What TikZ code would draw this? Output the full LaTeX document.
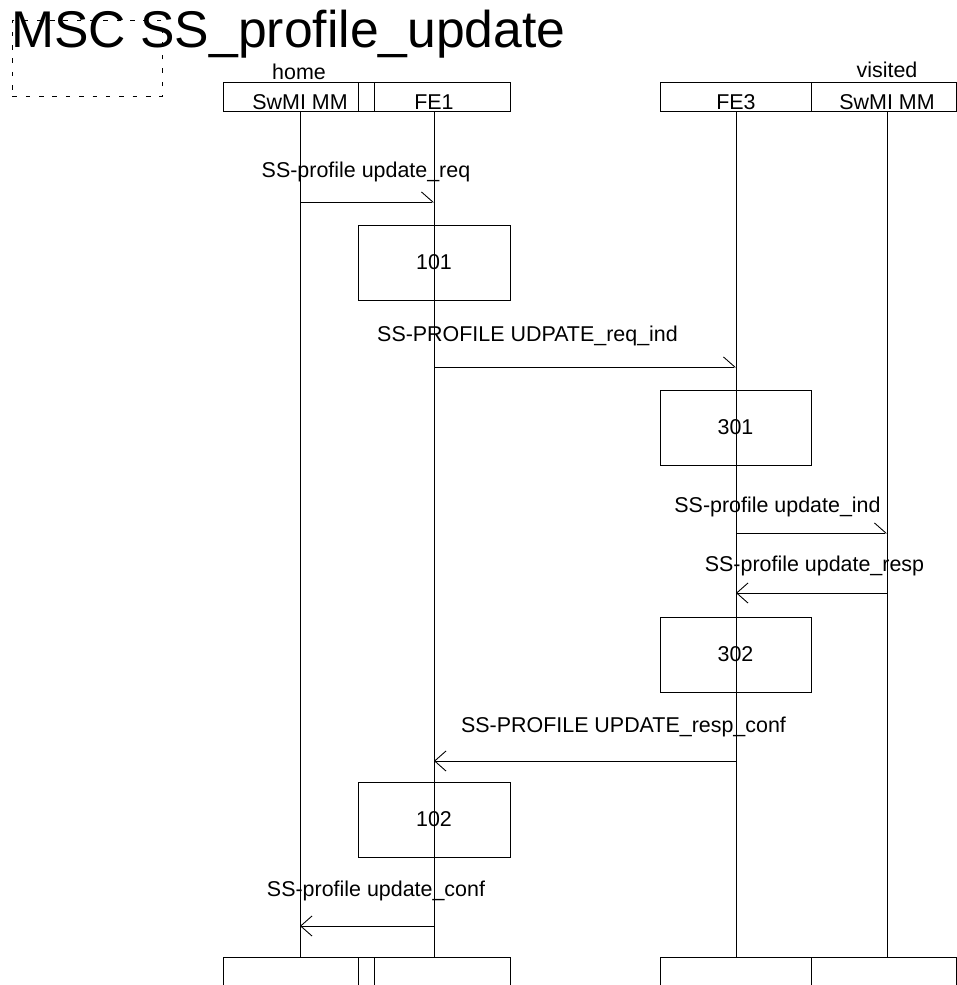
\documentclass[tikz,border=0pt]{standalone}
\usepackage{fontspec}
\setmainfont{Liberation Sans}
\usetikzlibrary{arrows.meta,calc,positioning}

\begin{document}
\begin{tikzpicture}[x=0.02cm, y=-0.02cm, line width=0.5pt,
  every node/.style={font=\fontsize{12.2}{14}\selectfont, inner sep=0pt},
  headbox/.style={draw, anchor=north west, minimum height=0.58cm},
  actbox/.style={draw, minimum height=1.5cm},
  msgr/.style={-{Straight Barb[harpoon, length=6.5pt, width=11.5pt]}},
  msgl/.style={-{Straight Barb[length=6.5pt, width=11.5pt]}}]

\useasboundingbox (0,0) rectangle (957,985);

% titolo
\node[draw, dashed, dash pattern=on 2.6pt off 5pt, anchor=north west,
  minimum width=3cm, minimum height=1.52cm] (frame) at (12,20) {};
\node[anchor=base west, font=\fontsize{29.4}{32}\selectfont] (title) at (11,47) {MSC SS\_profile\_update};

% testate home
\node[anchor=base] (home) at (299,79) {home};
\node[headbox, minimum width=2.7cm] (hmmtop) at (223,82) {};
\node[headbox, minimum width=0.32cm] (hgap) at (358,82) {};
\node[headbox, minimum width=2.72cm] (fe1top) at (374,82) {};
\node[anchor=base] (hmm) at (300,109.5) {SwMI MM};
\node[anchor=base] (fe1) at (434,109.5) {FE1};

% testate visited
\node[anchor=base] (visited) at (887,77) {visited};
\node[headbox, minimum width=3.02cm] (fe3top) at (660,82) {};
\node[headbox, minimum width=2.9cm] (vmmtop) at (811,82) {};
\node[anchor=base] (fe3) at (736,109.5) {FE3};
\node[anchor=base] (vmm) at (887,109.5) {SwMI MM};

% chiusure
\node[headbox, minimum width=2.7cm] (hmmend) at (223,957) {};
\node[headbox, minimum width=0.32cm] (hgapend) at (358,957) {};
\node[headbox, minimum width=2.72cm] (fe1end) at (374,957) {};
\node[headbox, minimum width=3.02cm] (fe3end) at (660,957) {};
\node[headbox, minimum width=2.9cm] (vmmend) at (811,957) {};

% linee di vita
\draw (hmm |- hmmtop.south) -- (hmm |- hmmend.north);
\draw (fe1 |- fe1top.south) -- (fe1 |- fe1end.north);
\draw (fe3 |- fe3top.south) -- (fe3 |- fe3end.north);
\draw (vmm |- vmmtop.south) -- (vmm |- vmmend.north);

% richiesta
\node[anchor=base] (reqlbl) at (366,177) {SS-profile update\_req};
\draw[msgr] (hmm |- 0,202) -- (fe1 |- 0,202);
\node[actbox, minimum width=3.04cm] (b101) at (434,262.5) {101};

\node[anchor=base] (indlbl) at (527.5,341) {SS-PROFILE UDPATE\_req\_ind};
\draw[msgr] (fe1 |- 0,367) -- (fe3 |- 0,367);
\node[actbox, minimum width=3.02cm] (b301) at (735.5,427.5) {301};

\node[anchor=base] (vindlbl) at (777.5,512) {SS-profile update\_ind};
\draw[msgr] (fe3 |- 0,533) -- (vmm |- 0,533);

% risposta
\node[anchor=base] (vresplbl) at (814.5,571) {SS-profile update\_resp};
\draw[msgl] (vmm |- 0,593) -- (fe3 |- 0,593);
\node[actbox, minimum width=3.02cm] (b302) at (735.5,654.5) {302};

\node[anchor=base] (conflbl) at (623.5,732) {SS-PROFILE UPDATE\_resp\_conf};
\draw[msgl] (fe3 |- 0,761) -- (fe1 |- 0,761);
\node[actbox, minimum width=3.04cm] (b102) at (434,819.5) {102};

\node[anchor=base] (hconflbl) at (376,896) {SS-profile update\_conf};
\draw[msgl] (fe1 |- 0,926) -- (hmm |- 0,926);

\end{tikzpicture}
\end{document}
